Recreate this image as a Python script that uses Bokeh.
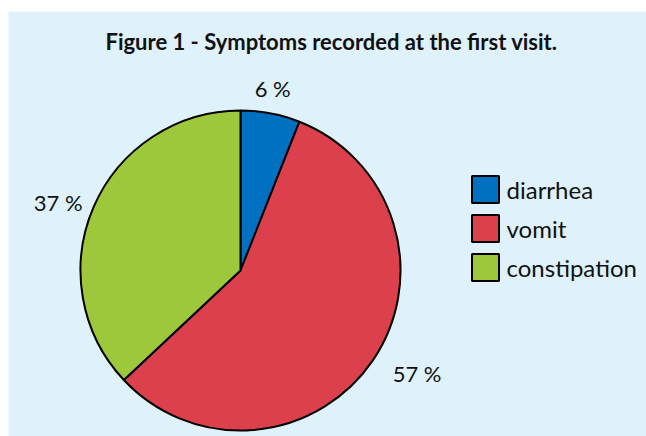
import numpy as np
from bokeh.plotting import figure
from bokeh.layouts import column, row
from bokeh.models import Spacer, ColumnDataSource
from bokeh.core.properties import value
from bokeh.embed import file_html
from bokeh.resources import INLINE

# ---- data ----
categories = ["diarrhea", "vomit", "constipation"]
percentages = [6, 57, 37]
colors = ["#0070C0", "#DC404D", "#9DC83C"]
title_text = "Figure 1 - Symptoms recorded at the first visit."

FONT = "Lato"
BG = "#DFF1FB"
W, H = 638, 425

p = figure(width=W, height=H, x_range=(0, W), y_range=(0, H),
           output_backend="svg", toolbar_location=None,
           min_border=0, background_fill_color=BG, border_fill_color=BG,
           outline_line_color=None)
p.axis.visible = False
p.grid.visible = False

# pie geometry (layout constants)
cx, cy, r = 232, 166, 160
vals = np.array(percentages, dtype=float)
frac = vals / vals.sum()
cum_end = np.cumsum(frac)
cum_start = cum_end - frac
start = np.pi / 2 - cum_start * 2 * np.pi
end = np.pi / 2 - cum_end * 2 * np.pi

src = ColumnDataSource(dict(start=start, end=end, color=colors, cat=categories))
p.wedge(x=cx, y=cy, radius=r, start_angle="start", end_angle="end",
        direction="clock", fill_color="color", line_color="black",
        line_width=2, source=src)

# labels: outside the pie at each slice's mid-angle
mid = (cum_start + frac / 2) * 2 * np.pi
lx, ly, aligns, bases = [], [], [], []
for a in mid:
    s, c = np.sin(a), np.cos(a)
    if c > 0.85:
        lr, b = 172, "bottom"
    elif c < -0.5:
        lr, b = 184, "middle"
    else:
        lr, b = 172, "middle"
    lx.append(cx + lr * s)
    ly.append(cy + lr * c)
    aligns.append("left" if s > 0.5 else ("right" if s < -0.5 else "center"))
    bases.append(b)
lab = ColumnDataSource(dict(x=lx, y=ly, t=[f"{v:g} %" for v in percentages],
                            a=aligns, b=bases))
p.text(x="x", y="y", text="t", text_align="a", text_baseline="b",
       text_font=value(FONT), text_font_size="22px", text_color="#111111",
       source=lab)

# legend (manual)
leg_x, leg_y0, leg_dy, sq = 477, 247, 39, 27
ly2 = [leg_y0 - i * leg_dy for i in range(len(categories))]
lsrc = ColumnDataSource(dict(x=[leg_x] * len(categories), y=ly2,
                             tx=[leg_x + 21] * len(categories),
                             color=colors, cat=categories))
p.rect(x="x", y="y", width=sq, height=sq, fill_color="color",
       line_color="black", line_width=2, source=lsrc)
p.text(x="tx", y="y", text="cat", text_baseline="middle", text_align="left",
       text_font=value(FONT), text_font_size="24px", text_color="#111111",
       source=lsrc)

# title
p.text(x=[323], y=[395], text=[title_text], text_align="center",
       text_baseline="alphabetic", text_font=value(FONT),
       text_font_style="bold", text_font_size="22px", text_color="#111111")

layout = row(Spacer(width=8), column(Spacer(height=11), p, spacing=0), spacing=0)
open("out.html", "w").write(file_html(layout, INLINE))
